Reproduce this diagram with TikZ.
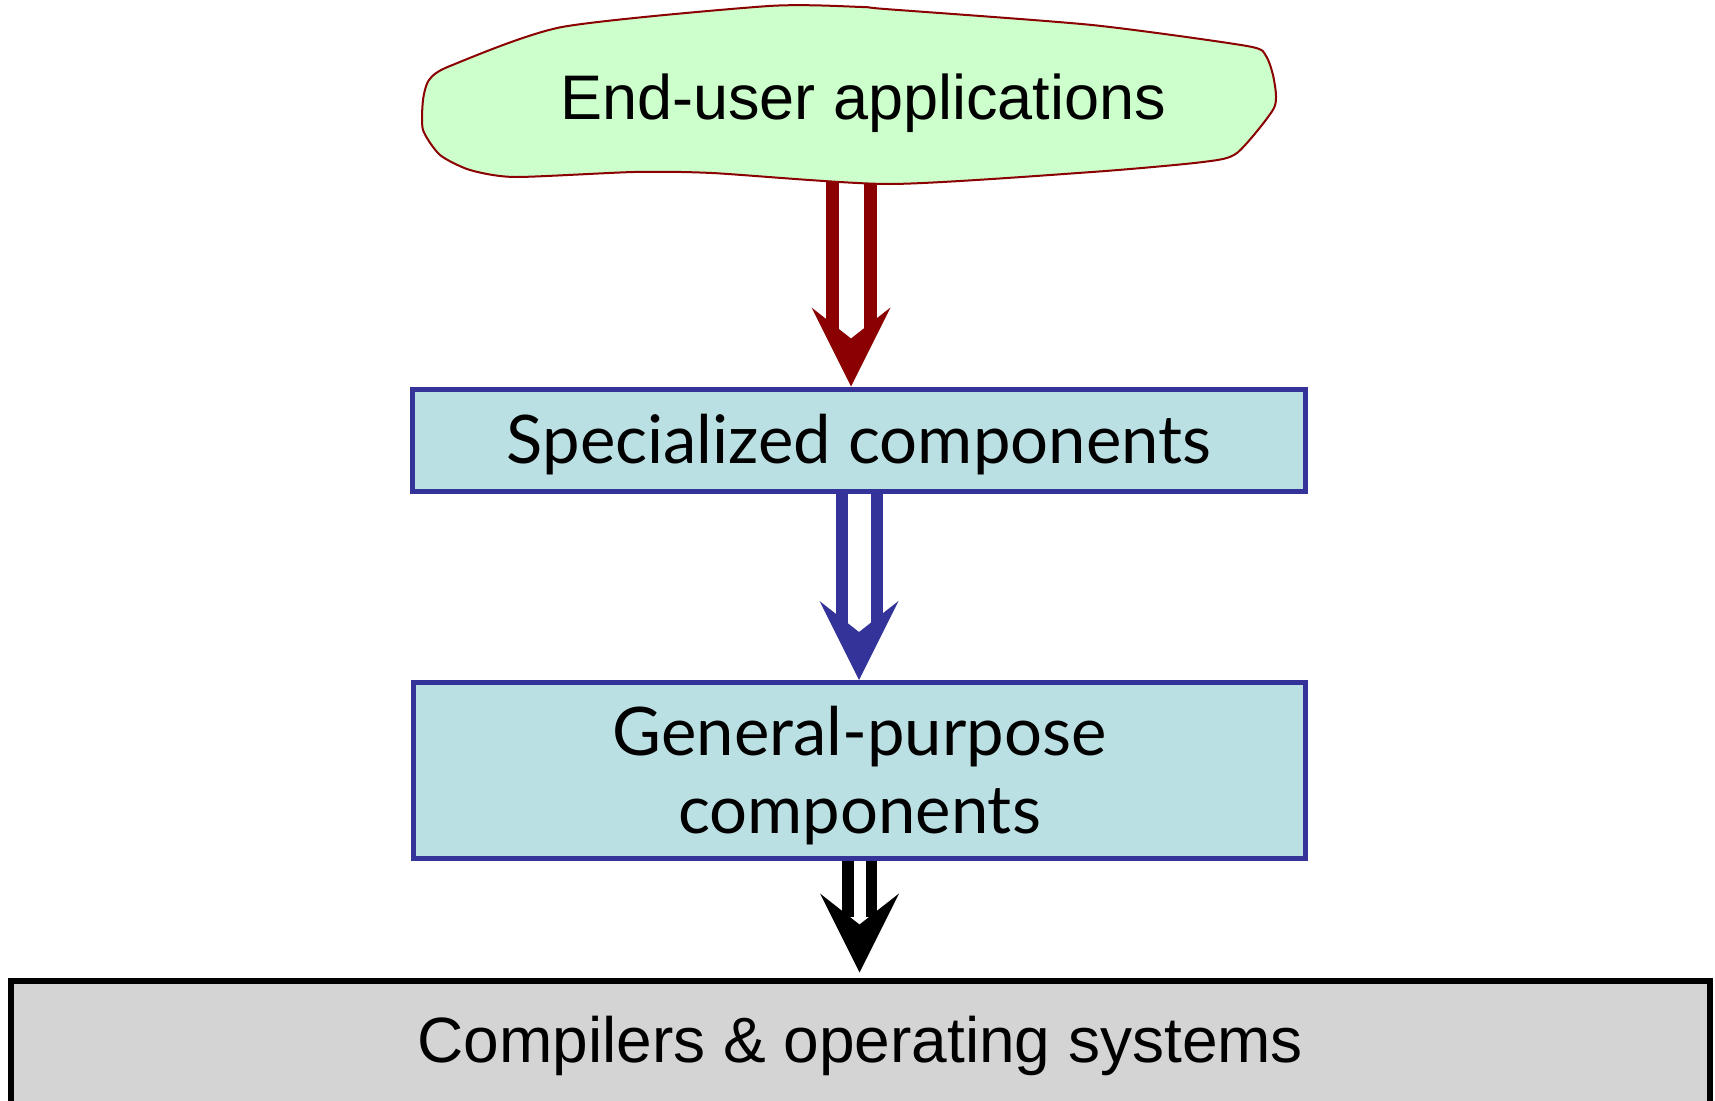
\documentclass[tikz,border=0pt]{standalone}
\usepackage{fontspec}
\setmainfont{Liberation Sans}
\newfontfamily\casualfont{Lato}
\usetikzlibrary{calc}
\definecolor{blobfill}{HTML}{CCFFCC}
\definecolor{arrowred}{HTML}{8B0000}
\definecolor{boxfill}{HTML}{BBE0E3}
\definecolor{boxblue}{HTML}{333399}
\definecolor{graybox}{HTML}{D4D4D4}

% #1 colour, #2 start, #3 tip target, #4 inner offset, #5 outer offset
\newcommand\hollowarrow[5]{%
  \fill[#1] let \p1=(#2), \p2=(#3) in
    (\x1-#5,\y1) rectangle (\x1-#4,\y2+56pt);
  \fill[#1] let \p1=(#2), \p2=(#3) in
    (\x1+#4,\y1) rectangle (\x1+#5,\y2+56pt);
  \fill[#1] let \p1=(#2), \p2=(#3) in
    (\x1,\y2) -- (\x1-39.5pt,\y2+79pt) -- (\x1,\y2+48pt) -- (\x1+39.5pt,\y2+79pt) -- cycle;
}

\begin{document}
\begin{tikzpicture}[x=1pt,y=-1pt,
  box/.style={draw=boxblue,line width=5pt,fill=boxfill,inner sep=0pt,
    font=\casualfont\fontsize{67}{78}\selectfont,align=center},
  graystyle/.style={draw=black,line width=6pt,fill=graybox,inner sep=0pt,
    font=\fontsize{64}{76}\selectfont},
  blobtext/.style={inner sep=0pt,font=\fontsize{63}{75}\selectfont}]
\useasboundingbox (0,0) rectangle (1715,1100);
\clip (0,0) rectangle (1715,1100);

% boxes
\node[box,minimum width=893pt,minimum height=102.5pt,text height=60pt,text depth=14.5pt]
  (spec) at (859,440.25) {Specialized components};
\node[box,minimum width=892pt,minimum height=176pt,text height=140pt,text depth=15pt]
  (gen) at (859.5,770.5) {General-purpose\\components};
\node[graystyle,minimum width=1699.5pt,minimum height=123.5pt,text height=50pt,text depth=10pt]
  (comp) at (860.25,1042.25) {Compilers \& operating systems};

% arrows
\coordinate (appbot) at (851,180);
\hollowarrow{arrowred}{appbot}{spec.north}{12.5pt}{25.5pt}
\hollowarrow{boxblue}{spec.south}{gen.north}{11.5pt}{23.5pt}
\coordinate (comptip) at ($(comp.north)+(0,-5)$);
\hollowarrow{black}{gen.south}{comptip}{6pt}{17.5pt}

% blob
\draw[arrowred,line width=2pt,fill=blobfill] plot[smooth cycle,tension=0.4] coordinates {
  (562,27) (769,6) (862,7) (885,9) (1092,25) (1247,46) (1266,56) (1274,80)
  (1274,108) (1237,153) (1203,162) (1092,172) (890,184) (712,173) (634,172)
  (515,177) (470,170) (440,155) (423,130) (423,100) (429,80) (450,66)};
\node[blobtext,anchor=base] (app) at (863,119) {End-user applications};
\end{tikzpicture}
\end{document}
